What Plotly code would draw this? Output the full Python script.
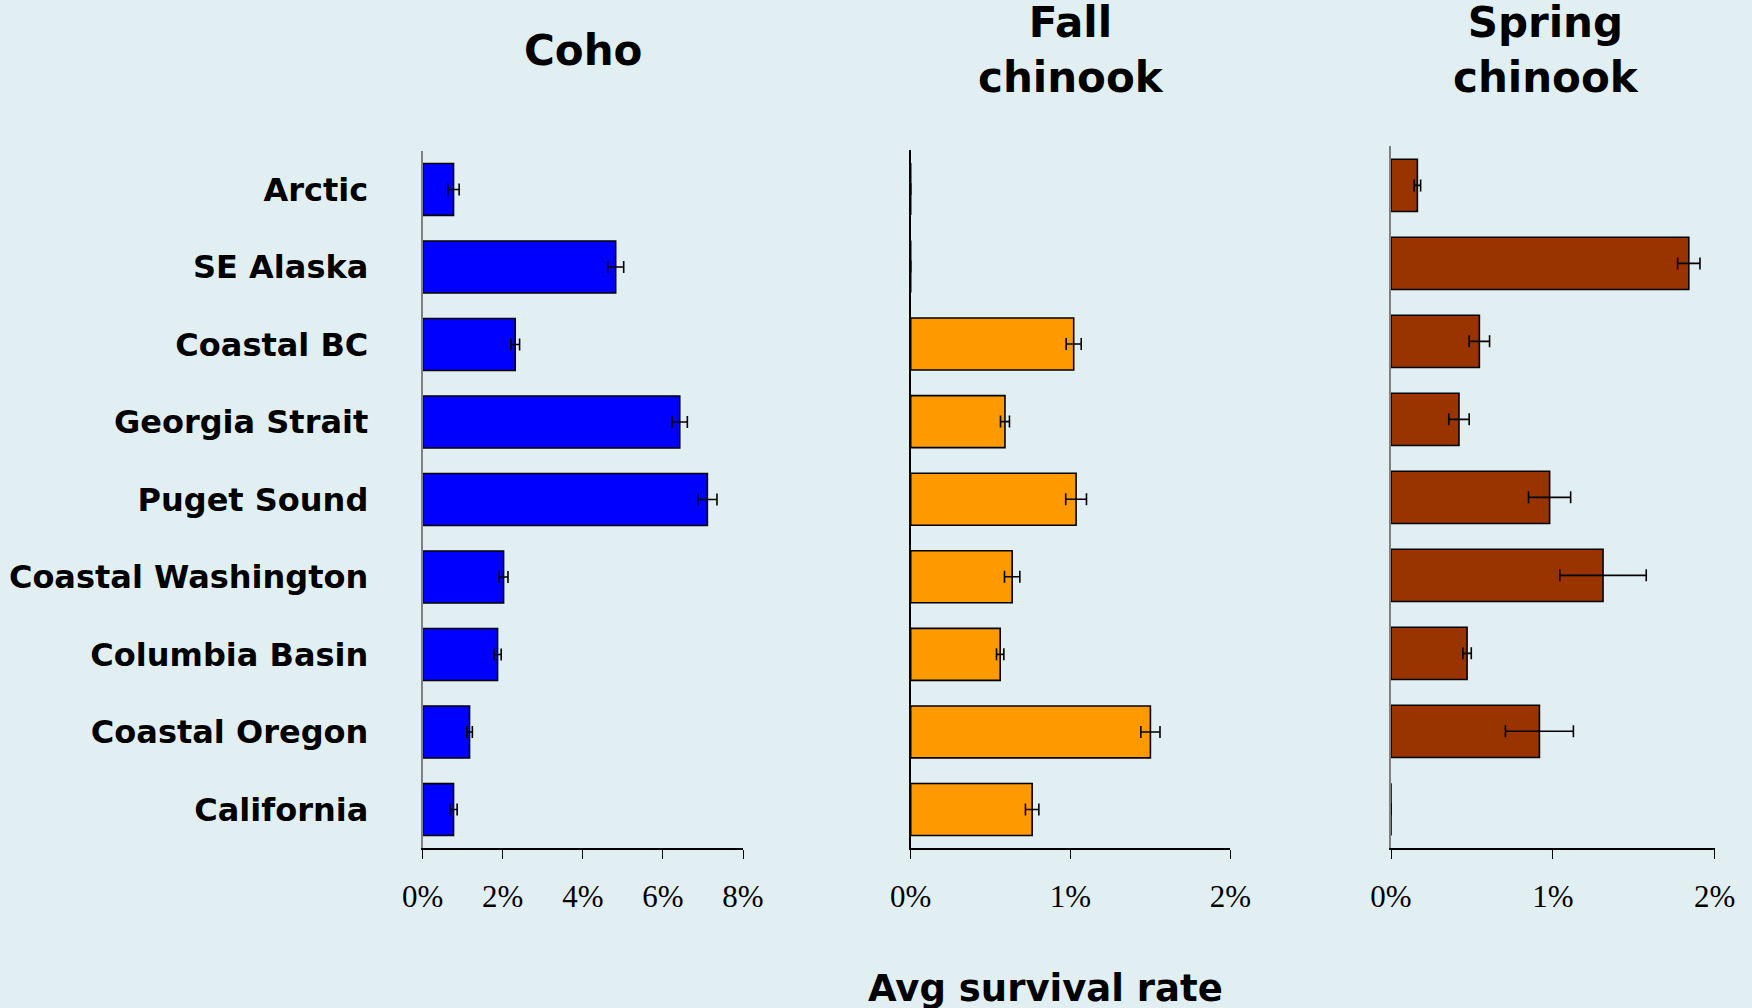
import plotly.graph_objects as go

# Average survival rate (%) by ocean-entry region, with standard errors
regions = ["Arctic", "SE Alaska", "Coastal BC", "Georgia Strait", "Puget Sound",
           "Coastal Washington", "Columbia Basin", "Coastal Oregon", "California"]

coho = [0.77, 4.82, 2.31, 6.42, 7.11, 2.02, 1.87, 1.17, 0.77]
coho_err = [0.14, 0.20, 0.11, 0.19, 0.24, 0.11, 0.09, 0.07, 0.09]

fall_chinook = [0.0, 0.0, 1.02, 0.59, 1.035, 0.635, 0.56, 1.50, 0.76]
fall_chinook_err = [0.0, 0.0, 0.047, 0.028, 0.065, 0.048, 0.023, 0.06, 0.042]

spring_chinook = [0.163, 1.84, 0.546, 0.42, 0.98, 1.31, 0.47, 0.917, 0.0]
spring_chinook_err = [0.02, 0.069, 0.063, 0.063, 0.13, 0.267, 0.026, 0.21, 0.0]

coho_ticks = [0, 2, 4, 6, 8]
chinook_ticks = [0, 1, 2]

W, H = 1752, 1008
BG = "#E1EFF2"


def px_x(p):
    return p / W


def px_y(p):
    return 1 - p / H


panels = [
    dict(vals=coho, err=coho_err, color="#0000FF", rng=[0, 8], ticks=coho_ticks,
         dom_x=[px_x(422.7), px_x(743)], dom_y=[px_y(848.3), px_y(150.7)],
         yline="#808080", title="Coho", tx=583),
    dict(vals=fall_chinook, err=fall_chinook_err, color="#FF9900", rng=[0, 2], ticks=chinook_ticks,
         dom_x=[px_x(910.7), px_x(1230.3)], dom_y=[px_y(848.3), px_y(150.1)],
         yline="#000000", title="Fall<br>chinook", tx=1071),
    dict(vals=spring_chinook, err=spring_chinook_err, color="#993300", rng=[0, 2], ticks=chinook_ticks,
         dom_x=[px_x(1391), px_x(1714.7)], dom_y=[px_y(848.3), px_y(146.4)],
         yline="#808080", title="Spring<br>chinook", tx=1546),
]

fig = go.Figure()
layout = dict(
    width=W, height=H,
    margin=dict(l=0, r=0, t=0, b=0, pad=0, autoexpand=False),
    paper_bgcolor=BG, plot_bgcolor=BG,
    showlegend=False,
    bargap=0.33,
)

annotations = []
for i, p in enumerate(panels):
    n = "" if i == 0 else str(i + 1)
    fig.add_trace(go.Bar(
        x=p["vals"], y=regions, orientation="h",
        marker=dict(color=p["color"], line=dict(color="#000000", width=1.6)),
        error_x=dict(type="data", array=p["err"], symmetric=True,
                     color="#000000", thickness=1.6, width=6),
        xaxis="x" + n, yaxis="y" + n,
        hoverinfo="skip",
    ))
    layout["xaxis" + n] = dict(
        domain=p["dom_x"], range=p["rng"], anchor="y" + n, automargin=False,
        tickvals=p["ticks"], ticktext=[f"{t}%" for t in p["ticks"]],
        ticks="outside", ticklen=9, tickwidth=1, tickcolor="#000000",
        showline=True, linecolor="#000000", linewidth=1.5,
        showgrid=False, zeroline=False,
        tickfont=dict(family="Liberation Serif", size=31, color="#000000"),
        ticklabelstandoff=11,
    )
    layout["yaxis" + n] = dict(
        domain=p["dom_y"], anchor="x" + n, automargin=False,
        type="category", categoryorder="array", categoryarray=regions,
        range=[8.5, -0.5],
        showline=True, linecolor=p["yline"], linewidth=2,
        showgrid=False, zeroline=False, ticks="",
        showticklabels=(i == 0),
        tickfont=dict(family="DejaVu Sans", size=32, color="#000000", weight="bold"),
        ticklabelstandoff=46,
    )
    annotations.append(dict(
        text=p["title"], x=px_x(p["tx"]), y=px_y(50), xref="paper", yref="paper",
        xanchor="center", yanchor="middle", showarrow=False,
        font=dict(family="DejaVu Sans", size=42, color="#000000", weight="bold"),
    ))

annotations.append(dict(
    text="Avg survival rate", x=px_x(1045), y=px_y(988), xref="paper", yref="paper",
    xanchor="center", yanchor="middle", showarrow=False,
    font=dict(family="DejaVu Sans", size=37, color="#000000", weight="bold"),
))
layout["annotations"] = annotations

fig.update_layout(**layout)
fig.write_html("out.html")
